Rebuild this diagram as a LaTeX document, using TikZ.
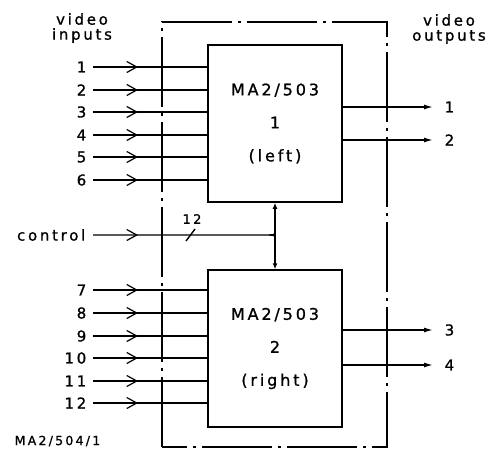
\documentclass[tikz,border=0pt]{standalone}
\usepackage{fontspec}
\setmainfont{DejaVu Sans}[LetterSpace=18,FakeBold=1]
\usetikzlibrary{arrows.meta,decorations.markings}
\begin{document}
\begin{tikzpicture}[x=1pt,y=-1pt,line width=1.4pt,
  font=\fontsize{15}{15}\selectfont,
  lbl/.style={inner sep=0pt},
  mbox/.style={draw,line width=1.5pt,minimum width=134pt,minimum height=157pt,inner sep=0pt,align=center,font=\fontsize{16}{33}\selectfont},
  frame/.style={line width=1.4pt,dash pattern=on 70pt off 6pt on 3pt off 6pt},
  inarrow/.style={decoration={markings,mark=at position 45pt with {\arrow{Straight Barb[length=10pt,width=11pt,line width=1.2pt]}}},postaction=decorate},
  outarrow/.style={-{Latex[length=9pt,width=5pt]}}]
\useasboundingbox (0,0) rectangle (489,452);

% frame
\draw[frame] (162,447) -- (162,22) -- (387,22) -- (387,447) -- cycle;

% boxes
\node[mbox] (b1) at (275,123.5) {MA2/503\\1\\(left)};
\node[mbox] (b2) at (275,348.5) {MA2/503\\2\\(right)};

% headings
\node[align=center] (hin) at (82,28) {video\\inputs};
\node[align=center] (hout) at (449,29) {video\\outputs};
\node[lbl,anchor=west,font=\fontsize{12.5}{12}\selectfont] (ref) at (14,441) {MA2/504/1};

% inputs
\foreach \n/\y/\b in {1/67/b1,2/90/b1,3/112/b1,4/135/b1,5/157/b1,6/180/b1,
                      7/290/b2,8/313/b2,9/336/b2,10/358/b2,11/381/b2,12/403/b2}{
  \node[lbl,anchor=east] (in\n) at (87,\y) {\n};
  \draw[inarrow] ([xshift=6pt]in\n.east) -- (in\n.east -| \b.west);
}

% control
\node[lbl,anchor=east] (ctl) at (86,235) {control};
\coordinate (j) at (275,235);
\draw[inarrow] ([xshift=7pt]ctl.east) -- ([xshift=-6pt]j) .. controls (j) .. ([yshift=-6pt]j);
\draw ([xshift=-6pt]j) .. controls (j) .. ([yshift=6pt]j);
\draw[{Latex[length=6pt,width=5pt]}-{Latex[length=6pt,width=5pt]}] (b1.south) -- (b2.north);
\coordinate (s1) at (186,241);
\coordinate (s2) at (195,229);
\draw (s1) -- (s2);
\node[lbl,font=\fontsize{13}{12}\selectfont] (bus) at (192,219) {12};

% outputs
\foreach \n/\y/\b in {1/107/b1,2/140/b1,3/330/b2,4/365/b2}{
  \node[lbl,anchor=west] (out\n) at (444,\y) {\n};
  \draw[outarrow] (\b.east |- out\n) -- ([xshift=-11pt]out\n.west);
}
\end{tikzpicture}
\end{document}
